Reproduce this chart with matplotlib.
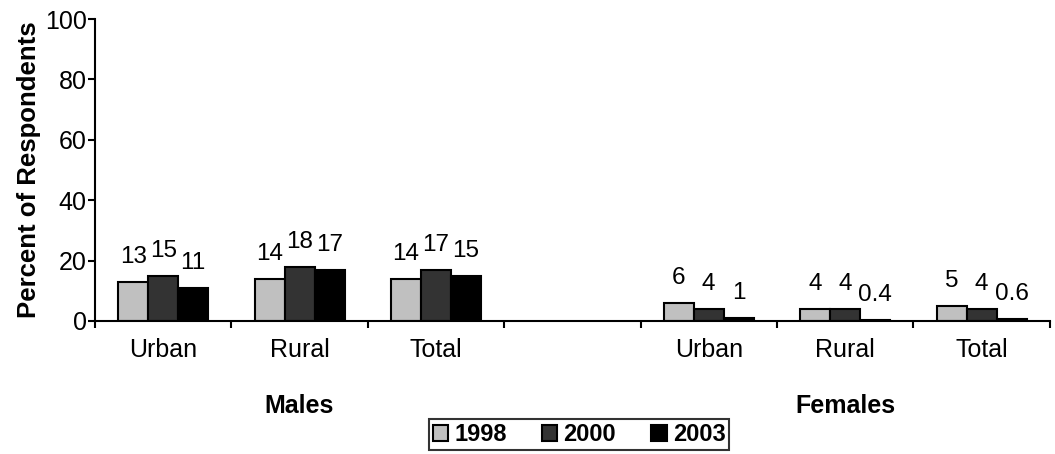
import numpy as np
import matplotlib.pyplot as plt

plt.rcParams['font.family'] = ['Liberation Sans', 'DejaVu Sans']

# data
categories = ["Urban", "Rural", "Total", "", "Urban", "Rural", "Total"]
years = ["1998", "2000", "2003"]
v1998 = [13, 14, 14, None, 6, 4, 5]
v2000 = [15, 18, 17, None, 4, 4, 4]
v2003 = [11, 17, 15, None, 1, 0.4, 0.6]
groups = ["Males", "Females"]
colors = ["#C0C0C0", "#333333", "#000000"]

fig = plt.figure(figsize=(10.55, 4.54), dpi=100)
ax = fig.add_axes([0.090, 0.293, 0.905, 0.665])

x = np.arange(len(categories))
w = 0.22
series = [v1998, v2000, v2003]
for k, vals in enumerate(series):
    xs = [xi + (k - 1) * w for xi, v in zip(x, vals) if v is not None]
    ys = [v for v in vals if v is not None]
    ax.bar(xs, ys, width=w, color=colors[k], edgecolor="black", linewidth=1.5,
           label=years[k])
    for xi, v in zip(xs, ys):
        ax.annotate(f"{v:g}", (xi, v), xytext=(0, 10), textcoords="offset points",
                    ha="center", va="bottom", fontsize=17.5)

ax.set_ylim(0, 100)
ax.set_yticks(range(0, 101, 20))
ax.set_xlim(-0.5, 6.4)
ax.set_xticks(np.arange(-0.5, 7, 1))
ax.set_xticklabels([])
ax.set_xticks(x, minor=True)
ax.set_xticklabels(categories, minor=True)
ax.tick_params(axis="x", which="minor", length=0, pad=12, labelsize=18)
ax.tick_params(axis="x", which="major", length=5, width=1.5, direction="out")
ax.tick_params(axis="y", length=5, width=1.5, direction="out", labelsize=18, pad=1)
for s in ["top", "right"]:
    ax.spines[s].set_visible(False)
ax.spines["left"].set_linewidth(1.5)
ax.spines["bottom"].set_linewidth(1.5)
ax.set_ylabel("Percent of Respondents", fontsize=18.5, fontweight="bold", labelpad=3)

# group labels
ax.text(1, -0.28, groups[0], transform=ax.get_xaxis_transform(), ha="center",
        va="center", fontsize=18, fontweight="bold")
ax.text(5, -0.28, groups[1], transform=ax.get_xaxis_transform(), ha="center",
        va="center", fontsize=18, fontweight="bold")

leg = fig.legend(loc="center", bbox_to_anchor=(0.549, 0.043), ncol=3,
                 prop={"weight": "bold", "size": 17}, frameon=True, fancybox=False,
                 handlelength=0.65, handleheight=0.65, handletextpad=0.25,
                 columnspacing=1.5, borderpad=0.15, borderaxespad=0)
leg.get_frame().set_edgecolor("black")
leg.get_frame().set_linewidth(1.5)

fig.savefig("out.png", dpi=100)
